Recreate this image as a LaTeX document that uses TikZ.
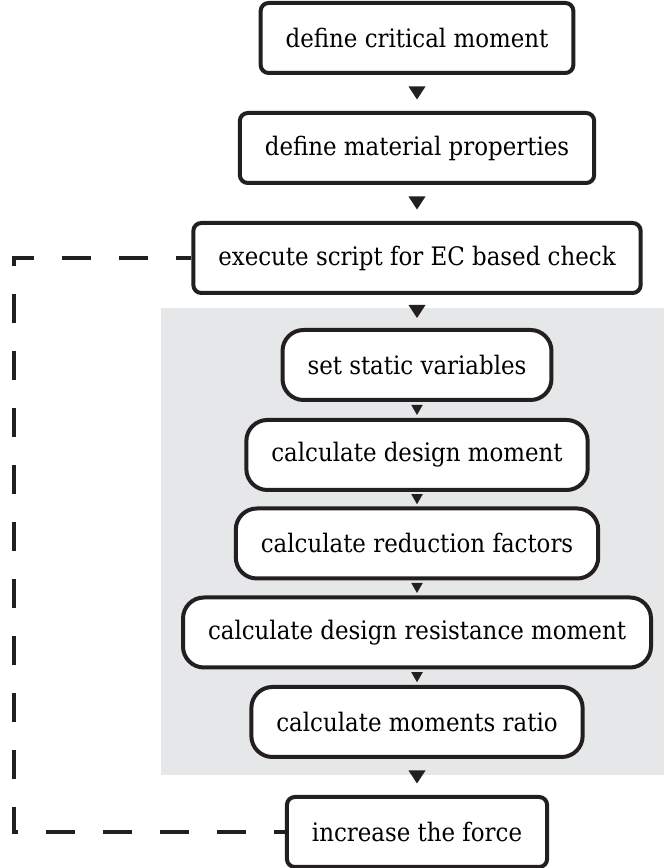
\documentclass[tikz,border=0pt]{standalone}
\usepackage{fontspec}
\setmainfont{DejaVu Serif Condensed}
\usepackage{tikz}
\usetikzlibrary{decorations.markings}
\definecolor{inkdark}{HTML}{231F20}
\definecolor{panelgray}{HTML}{E6E7E8}
\tikzset{stepbox/.style={rectangle,rounded corners=0.16cm,draw=inkdark,line width=0.08cm,
  fill=white,minimum height=1.4cm,inner xsep=0.5cm,font=\fontsize{14.5}{17}\selectfont},
  subbox/.style={stepbox,rounded corners=0.42cm},
  flow/.style={decoration={markings,mark=at position 0.5 with
    {\fill[inkdark] (0.13,0)--(-0.13,0.17)--(-0.13,-0.17)--cycle;}},postaction=decorate},
  subflow/.style={decoration={markings,mark=at position 0.5 with
    {\fill[inkdark] (0.1,0)--(-0.1,0.115)--(-0.1,-0.115)--cycle;}},postaction=decorate},
  feedback/.style={draw=inkdark,line width=0.08cm,dash pattern=on 0.58cm off 0.56cm,
  dash phase=0.36cm}}

\begin{document}
\begin{tikzpicture}
 \useasboundingbox (0,0) rectangle (13.28,17.36);
 \fill[panelgray] (3.22,1.86) rectangle (13.28,11.2);
 \node[stepbox] (crit) at (8.34,16.6) {define critical moment};
 \node[stepbox] (mat) at (8.34,14.4) {define material properties};
 \node[stepbox] (exec) at (8.34,12.2) {execute script for EC based check};
 \node[subbox] (stat) at (8.34,10.06) {set static variables};
 \node[subbox] (dmom) at (8.34,8.26) {calculate design moment};
 \node[subbox] (red) at (8.34,6.49) {calculate reduction factors};
 \node[subbox] (res) at (8.34,4.71) {calculate design resistance moment};
 \node[subbox] (ratio) at (8.34,2.92) {calculate moments ratio};
 \node[stepbox] (inc) at (8.34,0.72) {increase the force};
 \path[flow] (crit)--(mat);\path[flow] (mat)--(exec);\path[flow] (exec)--(stat);
 \path[subflow] (stat)--(dmom);\path[subflow] (dmom)--(red);
 \path[subflow] (red)--(res);\path[subflow] (res)--(ratio);
 \path[flow] (ratio)--(inc);
 \draw[feedback] (inc.west) -| (0.27,6) |- (exec.west);
\end{tikzpicture}
\end{document}
